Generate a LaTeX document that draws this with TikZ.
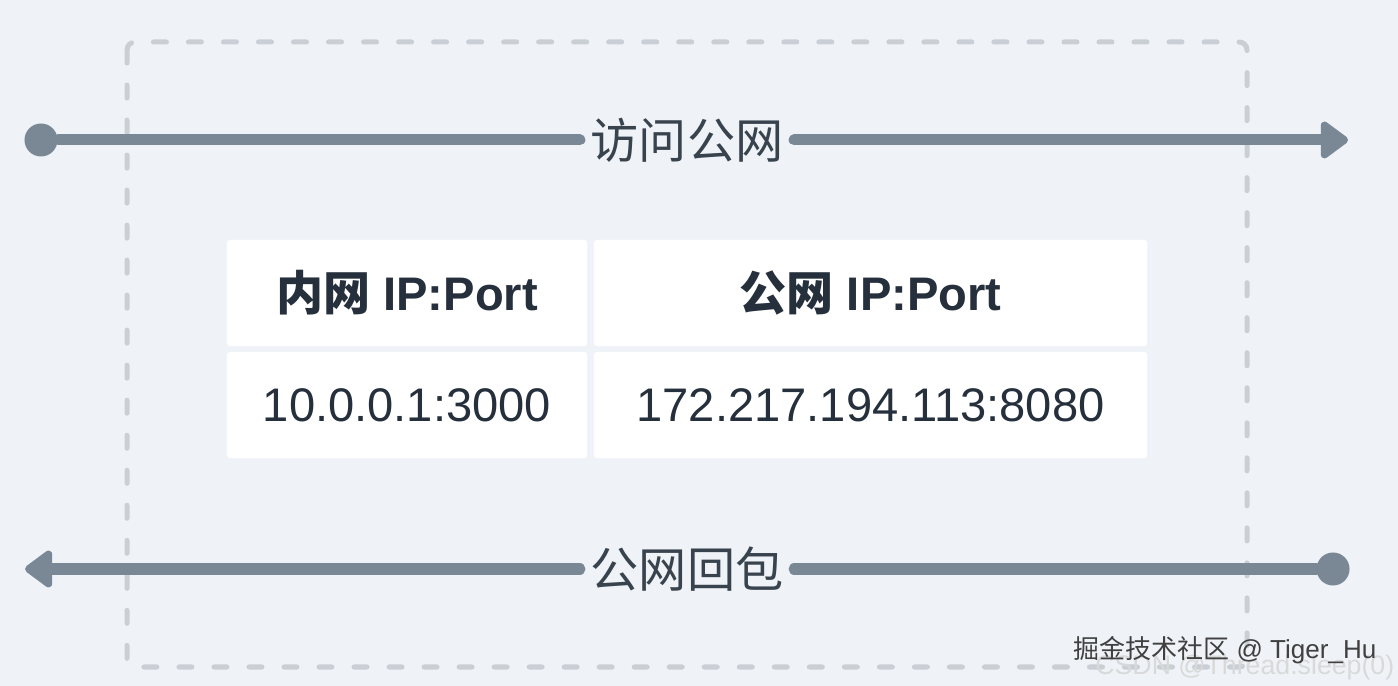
\documentclass[tikz,border=0pt]{standalone}
\usepackage{fontspec}
\setmainfont{Liberation Sans}
\newfontfamily\cjk{Noto Sans CJK SC}
\usepackage{tikz}
\usetikzlibrary{arrows.meta,positioning,calc}

\definecolor{bgcol}{HTML}{EFF3F7}
\definecolor{linecol}{HTML}{7A8896}
\definecolor{dashcol}{HTML}{C9CFD5}
\definecolor{labelcol}{HTML}{38434E}
\definecolor{cellcol}{HTML}{25303C}

\begin{document}
\begin{tikzpicture}[x=0.01cm,y=-0.01cm,
  flow/.style={draw=linecol, line width=0.11cm, line cap=round},
  flowtip/.style={flow, -{Triangle[length=0.3cm, width=0.42cm, line join=round]}},
  dot/.style={circle, fill=linecol, minimum size=0.33cm, inner sep=0pt},
  flowlabel/.style={inner xsep=0.1cm, inner ysep=0pt, text=labelcol, font=\cjk\fontsize{13.7}{16}\selectfont},
  cell/.style={rectangle, fill=white, rounded corners=0.03cm, minimum height=1.06cm, text=cellcol},
  headcell/.style={cell, font=\bfseries\fontsize{13.4}{16}\selectfont},
  datacell/.style={cell, font=\fontsize{13.4}{16}\selectfont}]

\fill[bgcol] (0,0) rectangle (1398,686);
\useasboundingbox (0,0) rectangle (1398,686);

% NAT boundary
\draw[dashcol, line width=0.05cm, line cap=round, dash pattern=on 0.13cm off 0.22cm, rounded corners=0.08cm] (127,42) rectangle (1247,667);

% outgoing
\node[dot, name=inA] at (41,140) {};
\coordinate (outA) at (1348,140);
\node[flowlabel, name=lblA] at (687,140) {访问公网};
\draw[flow] (inA) -- (lblA);
\draw[flowtip] (lblA) -- (outA);

% mapping table
\node[headcell, minimum width=3.6cm, name=hin] at (407,293) {{\cjk\bfseries 内网} IP:Port};
\node[headcell, minimum width=5.53cm, name=hout] at (870.5,293) {{\cjk\bfseries 公网} IP:Port};
\node[datacell, minimum width=3.6cm, name=din] at (407,405) {10.0.0.1:3000};
\node[datacell, minimum width=5.53cm, name=dout] at (870.5,405) {172.217.194.113:8080};

% incoming
\node[dot, name=inB] at (1333,569) {};
\coordinate (outB) at (25,569);
\node[flowlabel, name=lblB] at (687,569) {公网回包};
\draw[flow] (inB) -- (lblB);
\draw[flowtip] (lblB) -- (outB);

%\node[name=wm] ...
\node[anchor=east, inner sep=0pt, text=black!15, font=\fontsize{7.6}{9}\selectfont, name=wmB] at (1395,668) {CSDN @Thread.sleep(0)};
\node[anchor=east, inner sep=0pt, text=black!75, font=\fontsize{7.4}{9}\selectfont, name=wmA] at (1377,650) {{\cjk 掘金技术社区} @ Tiger\_Hu};
\end{tikzpicture}
\end{document}
